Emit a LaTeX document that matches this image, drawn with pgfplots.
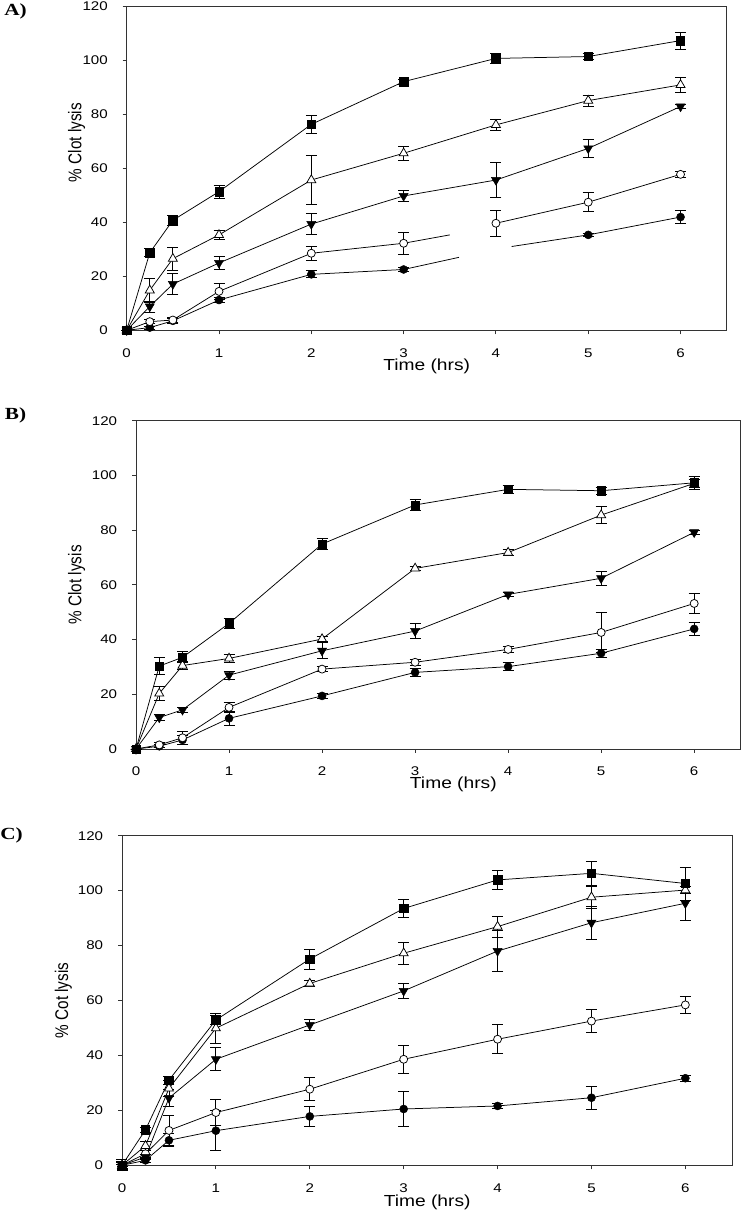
\documentclass[border=0pt]{standalone}
\usepackage{fontspec}
\setmainfont{Liberation Sans}[FakeStretch=1.2]
\newfontfamily\plainsans{Liberation Sans}
\newfontfamily\panelfont{Liberation Serif}[FakeStretch=1.25]
\usepackage{pgfplots}
\pgfplotsset{compat=1.18}
\pgfplotsset{
  panel/.style={scale only axis, clip=false,
    xmin=0, xmax=6.5, ymin=0, ymax=120,
    xtick={0,1,2,3,4,5,6}, ytick={0,20,40,60,80,100,120},
    tick pos=left, tick align=outside, major tick length=4pt,
    axis line style={line width=0.9pt, black!80},
    tick style={line width=0.9pt, black!80},
    tick label style={font=\fontsize{12.6}{14}\selectfont},
    x tick label style={anchor=north, inner sep=0pt, yshift=-14pt},
    y tick label style={anchor=east, inner sep=0pt, xshift=-14.7pt},
    xlabel={Time (hrs)},
    xlabel style={font=\fontsize{16}{18}\selectfont, at={(axis description cs:0.5,0)}, anchor=north, inner sep=0pt},
    ylabel style={anchor=center, inner sep=0pt},
    /pgf/number format/assume math mode=true,
  },
  ser/.style={black, line width=0.75pt},
  sq/.style={ser, mark=square*, mark size=4.2pt, mark options={fill=black, line width=0.5pt}},
  tr/.style={ser, mark=triangle*, mark size=5.2pt, mark options={fill=white, line width=0.75pt}},
  dt/.style={ser, mark=triangle*, mark size=5.2pt, mark options={fill=black, rotate=180, line width=0.5pt}},
  oc/.style={ser, mark=*, mark size=4pt, mark options={fill=white, line width=0.75pt}},
  fc/.style={ser, mark=*, mark size=4pt, mark options={fill=black, line width=0.5pt}},
  seg/.style={ser, no markers},
  errb/.style={error bars/.cd, y dir=both, y explicit,
    error bar style={line width=0.8pt, black},
    error mark options={rotate=90, mark size=5.5pt, line width=0.8pt, black}},
}
\newcommand{\yl}[1]{\scalebox{1}[1.2]{\plainsans\fontsize{15.3}{17}\selectfont #1}}
\begin{document}
\begin{tikzpicture}
\useasboundingbox (0,0) rectangle (742pt,1210pt);
\node[font=\panelfont\bfseries\fontsize{17}{19}\selectfont] at (15.5pt,1199pt) {A)};
\node[font=\panelfont\bfseries\fontsize{17}{19}\selectfont] at (15.5pt,795pt) {B)};
\node[font=\panelfont\bfseries\fontsize{17}{19}\selectfont] at (11.5pt,375pt) {C)};

% ---------------- Panel A ----------------
\begin{axis}[panel, at={(126.7pt,879.7pt)}, anchor=south west, width=600pt, height=324.3pt,
  xlabel style={yshift=-28pt},
  ylabel={\yl{\% Clot lysis}}, ylabel style={at={(axis description cs:-0.0833,0.5786)}}]
\addplot[seg] coordinates {(3,32.2) (3.5,35.3)};
\addplot[seg] coordinates {(3,22.5) (3.6,27.0)};
\addplot[seg] coordinates {(4.17,31.0) (5,35.3)};
\addplot[fc, errb] table[row sep=\\, x=x, y=y, y error=e] {x y e\\ 0 0 0\\ 0.25 1.0 0.5\\ 0.5 3.5 0.8\\ 1 11.2 1.0\\ 2 20.7 1.3\\ 3 22.5 0.8\\};
\addplot[fc, errb] table[row sep=\\, x=x, y=y, y error=e] {x y e\\ 5 35.3 0.6\\ 6 41.9 2.5\\};
\addplot[oc, errb] table[row sep=\\, x=x, y=y, y error=e] {x y e\\ 0 0 0\\ 0.25 3.2 0.8\\ 0.5 3.8 1.0\\ 1 14.4 3.0\\ 2 28.5 2.5\\ 3 32.2 4.0\\};
\addplot[oc, errb] table[row sep=\\, x=x, y=y, y error=e] {x y e\\ 4 39.6 4.8\\ 5 47.4 3.5\\ 6 57.7 1.0\\};
\addplot[dt, errb] table[row sep=\\, x=x, y=y, y error=e] {x y e\\ 0 0 0\\ 0.25 8.8 2.0\\ 0.5 17.1 4.0\\ 1 24.9 2.5\\ 2 39.3 4.0\\ 3 49.7 2.1\\ 4 55.6 6.5\\ 5 67.3 3.5\\ 6 82.8 0.6\\};
\addplot[tr, errb] table[row sep=\\, x=x, y=y, y error=e] {x y e\\ 0 0 0\\ 0.25 14.8 4.3\\ 0.5 26.5 4.3\\ 1 35.3 1.5\\ 2 55.6 9.0\\ 3 65.5 2.5\\ 4 76.0 2.1\\ 5 85.0 2.0\\ 6 90.8 2.7\\};
\addplot[sq, errb] table[row sep=\\, x=x, y=y, y error=e] {x y e\\ 0 0 0\\ 0.25 28.7 1.5\\ 0.5 40.7 1.8\\ 1 51.3 2.4\\ 2 76.2 3.4\\ 3 92.0 1.0\\ 4 100.6 1.8\\ 5 101.3 1.0\\ 6 107.2 3.2\\};
\end{axis}

% ---------------- Panel B ----------------
\begin{axis}[panel, at={(136pt,461pt)}, anchor=south west, width=604.7pt, height=328.3pt,
  xlabel style={yshift=-28pt, xshift=15pt},
  ylabel={\yl{\% Clot lysis}}, ylabel style={at={(axis description cs:-0.0981,0.5)}}]
\addplot[fc, errb] table[row sep=\\, x=x, y=y, y error=e] {x y e\\ 0 0 0\\ 0.25 1.0 0.5\\ 0.5 3.3 1.5\\ 1 11.2 2.5\\ 2 19.4 1.0\\ 3 28.0 1.6\\ 4 30.1 1.5\\ 5 35.0 1.5\\ 6 43.9 2.3\\};
\addplot[oc, errb] table[row sep=\\, x=x, y=y, y error=e] {x y e\\ 0 0 0\\ 0.25 1.5 1.0\\ 0.5 4.1 2.5\\ 1 15.2 1.8\\ 2 29.2 1.0\\ 3 31.7 1.0\\ 4 36.4 1.2\\ 5 42.6 7.3\\ 6 53.2 3.7\\};
\addplot[dt, errb] table[row sep=\\, x=x, y=y, y error=e] {x y e\\ 0 0 0\\ 0.25 11.5 1.2\\ 0.5 14.3 0.8\\ 1 27.0 1.5\\ 2 35.9 2.9\\ 3 43.1 2.8\\ 4 56.5 0.8\\ 5 62.4 2.6\\ 6 79.2 0.8\\};
\addplot[tr, errb] table[row sep=\\, x=x, y=y, y error=e] {x y e\\ 0 0 0\\ 0.25 20.3 2.5\\ 0.5 30.5 1.5\\ 1 33.1 1.5\\ 2 40.2 1.0\\ 3 66.0 0.8\\ 4 71.8 1.0\\ 5 85.5 3.2\\ 6 97.1 1.5\\};
\addplot[sq, errb] table[row sep=\\, x=x, y=y, y error=e] {x y e\\ 0 0 0\\ 0.25 30.3 3.2\\ 0.5 33.5 2.0\\ 1 45.9 2.0\\ 2 74.9 2.0\\ 3 89.2 2.0\\ 4 94.9 1.4\\ 5 94.4 1.2\\ 6 97.3 2.3\\};
\end{axis}

% ---------------- Panel C ----------------
\begin{axis}[panel, at={(122pt,44.7pt)}, anchor=south west, width=610.3pt, height=329.6pt,
  xlabel style={yshift=-29pt},
  ylabel={\yl{\% Cot lysis}}, ylabel style={at={(axis description cs:-0.0959,0.5)}}]
\addplot[fc, errb] table[row sep=\\, x=x, y=y, y error=e] {x y e\\ 0 0 0.5\\ 0.25 1.8 0.8\\ 0.5 9.1 2.4\\ 1 12.6 7.3\\ 2 17.8 3.6\\ 3 20.5 6.3\\ 4 21.6 0.8\\ 5 24.6 4.3\\ 6 31.7 1.2\\};
\addplot[oc, errb] table[row sep=\\, x=x, y=y, y error=e] {x y e\\ 0 0 1.0\\ 0.25 4.2 1.2\\ 0.5 12.7 5.5\\ 1 19.2 4.8\\ 2 27.7 4.2\\ 3 38.6 5.1\\ 4 45.9 5.3\\ 5 52.5 4.2\\ 6 58.4 3.1\\};
\addplot[dt, errb] table[row sep=\\, x=x, y=y, y error=e] {x y e\\ 0 0 1.0\\ 0.25 3.0 1.0\\ 0.5 24.5 3.0\\ 1 38.6 4.2\\ 2 51.1 2.0\\ 3 63.5 2.6\\ 4 78.0 7.5\\ 5 88.3 5.9\\ 6 95.4 6.1\\};
\addplot[tr, errb] table[row sep=\\, x=x, y=y, y error=e] {x y e\\ 0 0 1.5\\ 0.25 7.1 1.5\\ 0.5 28.0 3.0\\ 1 49.9 5.5\\ 2 66.2 1.0\\ 3 77.2 3.9\\ 4 86.9 3.9\\ 5 97.6 4.0\\ 6 100.2 1.2\\};
\addplot[sq, errb] table[row sep=\\, x=x, y=y, y error=e] {x y e\\ 0 0 2.0\\ 0.25 12.9 1.0\\ 0.5 31.0 1.5\\ 1 52.9 1.5\\ 2 75.1 3.6\\ 3 93.5 3.2\\ 4 103.9 3.6\\ 5 106.3 4.4\\ 6 102.6 6.0\\};
\end{axis}
\end{tikzpicture}
\end{document}
